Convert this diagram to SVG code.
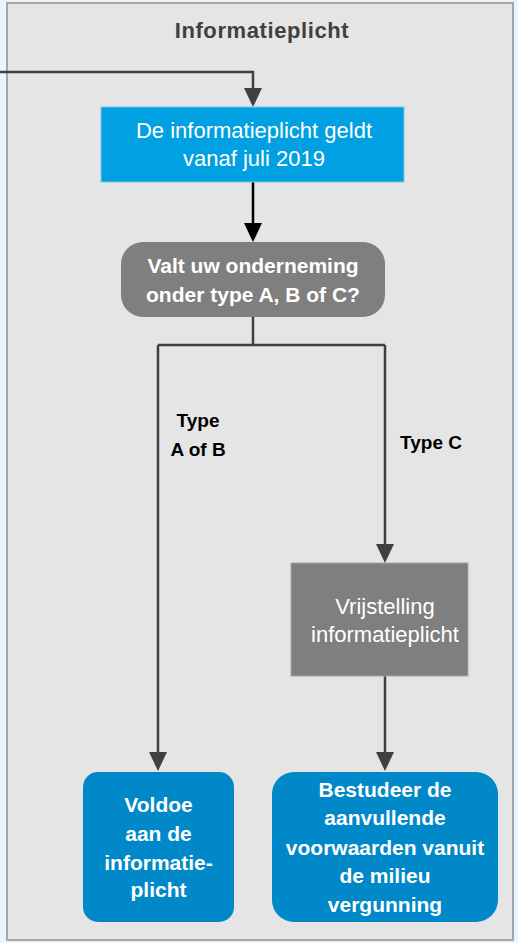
<svg xmlns="http://www.w3.org/2000/svg" width="518" height="943" viewBox="0 0 518 943">
<defs>
<style>
.ln{fill:none;stroke:#404040;stroke-width:2.5}
.t{font-family:"Liberation Sans",Arial,sans-serif;text-anchor:middle}
.w{fill:#ffffff}
.b{font-weight:bold}
.lb{font-family:"Liberation Sans",Arial,sans-serif;text-anchor:middle;font-weight:bold;font-size:19px;fill:#000}
</style>
</defs>
<rect x="0" y="0" width="518" height="943" fill="#e8f5fc"/>
<g id="container">
<rect x="7" y="3" width="506" height="937" fill="#e5e5e5" stroke="#a6a6a6" stroke-width="2"/>
<text class="t b" x="262" y="38" font-size="22" letter-spacing="0.6" fill="#404040">Informatieplicht</text>
</g>
<g id="connectors">
<path class="ln" d="M0,72 H253 V89"/>
<path d="M244,88 L262,88 L253,107 Z" fill="#404040"/>
<path d="M253,182 V224" fill="none" stroke="#000" stroke-width="2.5"/>
<path d="M244,223 L262,223 L253,242 Z" fill="#000"/>
<path class="ln" d="M253,317 V345 M158,345 H385 M158,345 V753 M385,345 V545"/>
<path d="M149,752 L167,752 L158,771 Z" fill="#404040"/>
<path d="M376,544 L394,544 L385,563 Z" fill="#404040"/>
<path class="ln" d="M385,676 V753"/>
<path d="M376,752 L394,752 L385,771 Z" fill="#404040"/>
<text class="lb" x="198" y="427">Type</text>
<text class="lb" x="198" y="456">A of B</text>
<text class="lb" x="431" y="449">Type C</text>
</g>
<g id="node-start">
<rect x="101" y="107" width="303" height="75" fill="#00a0e2" stroke="#7fc6ea" stroke-width="1"/>
<text class="t w" x="254" y="138" font-size="22">De informatieplicht geldt</text>
<text class="t w" x="254" y="166" font-size="22">vanaf juli 2019</text>
</g>
<g id="node-question">
<rect x="121" y="242" width="264" height="75" rx="22" fill="#7f7f7f"/>
<text class="t w b" x="253" y="273" font-size="21">Valt uw onderneming</text>
<text class="t w b" x="253" y="302" font-size="21">onder type A, B of C?</text>
</g>
<g id="node-vrijstelling">
<rect x="291" y="563" width="177" height="113" fill="#7f7f7f" stroke="#a6a6a6" stroke-width="1"/>
<text class="t w" x="385" y="614" font-size="22">Vrijstelling</text>
<text class="t w" x="385" y="642" font-size="22">informatieplicht</text>
</g>
<g id="node-voldoe">
<rect x="83" y="772" width="151" height="150" rx="15" fill="#0088c9"/>
<text class="t w b" x="158.5" y="812" font-size="21">Voldoe</text>
<text class="t w b" x="158.5" y="841" font-size="21">aan de</text>
<text class="t w b" x="158.5" y="870" font-size="21">informatie-</text>
<text class="t w b" x="158.5" y="897" font-size="21">plicht</text>
</g>
<g id="node-bestudeer">
<rect x="272" y="772" width="226" height="150" rx="22" fill="#0088c9"/>
<text class="t w b" x="385" y="797" font-size="21">Bestudeer de</text>
<text class="t w b" x="385" y="825" font-size="21">aanvullende</text>
<text class="t w b" x="385" y="855" font-size="21">voorwaarden vanuit</text>
<text class="t w b" x="385" y="883" font-size="21">de milieu</text>
<text class="t w b" x="385" y="912" font-size="21">vergunning</text>
</g>
</svg>
